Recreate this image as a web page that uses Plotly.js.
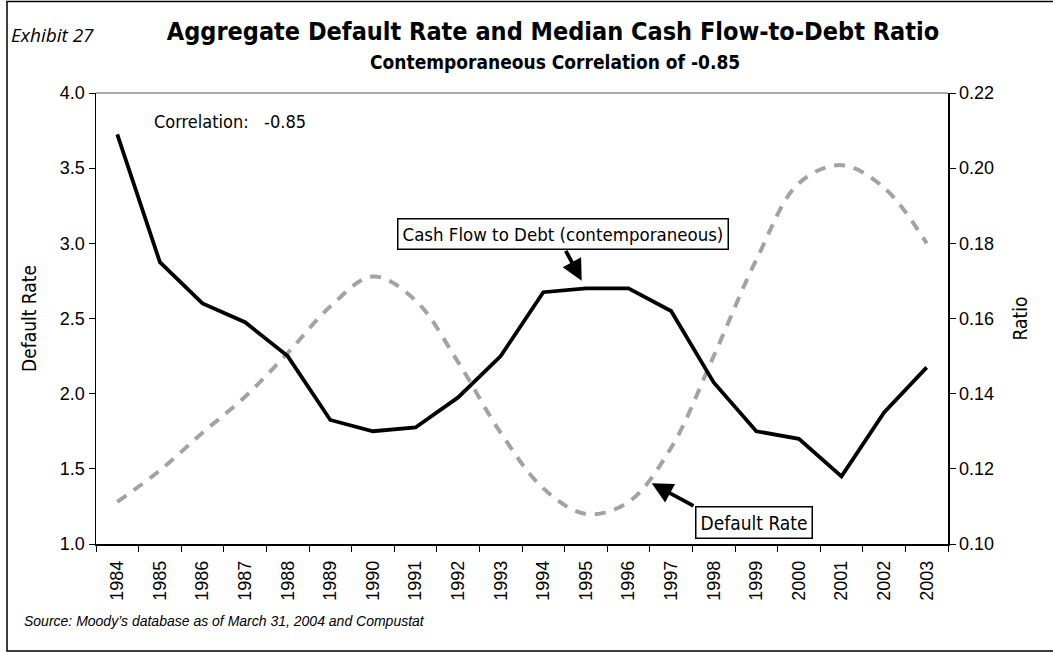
<!DOCTYPE html>
<html>
<head>
<meta charset="utf-8">
<script src="https://cdn.plot.ly/plotly-3.0.1.min.js"></script>
<style>
  html, body { margin: 0; padding: 0; background: #fff; }
  #chart { width: 1053px; height: 653px; }
</style>
</head>
<body>
<div id="chart"></div>
<script>
// ---- data ----
var years = ['1984','1985','1986','1987','1988','1989','1990','1991','1992','1993',
             '1994','1995','1996','1997','1998','1999','2000','2001','2002','2003'];
// Default rate (left axis, grey dashed)
var defaultRate = [1.28, 1.49, 1.74, 1.98, 2.27, 2.58, 2.78, 2.62, 2.21, 1.74,
                   1.37, 1.20, 1.28, 1.64, 2.25, 2.89, 3.40, 3.52, 3.37, 3.00];
// Median cash flow-to-debt ratio (right axis, solid black)
var cashFlowDebt = [0.209, 0.175, 0.164, 0.159, 0.150, 0.133, 0.130, 0.131, 0.139, 0.150,
                    0.167, 0.168, 0.168, 0.162, 0.143, 0.130, 0.128, 0.118, 0.135, 0.147];
var leftTicks = [1.0, 1.5, 2.0, 2.5, 3.0, 3.5, 4.0];
var rightTicks = [0.10, 0.12, 0.14, 0.16, 0.18, 0.20, 0.22];

var NARROW = '"Liberation Sans Narrow", "Arial Narrow", "DejaVu Sans Condensed", sans-serif';
var REG = '"Liberation Sans", Arial, sans-serif';

var traces = [
  {
    x: years, y: defaultRate, type: 'scatter', mode: 'lines', yaxis: 'y',
    name: 'Default Rate',
    line: { color: '#a3a3a3', width: 4, dash: '11px,9px', shape: 'spline', smoothing: 1 },
    hoverinfo: 'x+y'
  },
  {
    x: years, y: cashFlowDebt, type: 'scatter', mode: 'lines', yaxis: 'y2',
    name: 'Cash Flow to Debt',
    line: { color: '#000000', width: 3.8 },
    hoverinfo: 'x+y'
  }
];

var layout = {
  width: 1053, height: 653,
  margin: { l: 96, r: 105, t: 93, b: 109, pad: 0 },
  paper_bgcolor: '#ffffff', plot_bgcolor: '#ffffff',
  showlegend: false,
  title: {
    text: '<b>Aggregate Default Rate and Median Cash Flow-to-Debt Ratio</b>',
    font: { family: NARROW, size: 25, color: '#000' },
    x: 553 / 1053, xanchor: 'center', xref: 'container',
    y: 1 - 31 / 653, yanchor: 'middle', yref: 'container'
  },
  xaxis: {
    type: 'category',
    tickson: 'boundaries',
    ticks: 'outside', ticklen: 6, tickwidth: 1, tickcolor: '#000',
    showline: true, linecolor: '#000', linewidth: 1.5,
    showgrid: false, zeroline: false,
    tickangle: -90,
    ticklabelstandoff: 8,
    tickfont: { family: REG, size: 18, color: '#000' },
    range: [-0.5, 19.5]
  },
  yaxis: {
    range: [1, 4],
    tickvals: leftTicks, tickformat: '.1f',
    ticks: 'outside', ticklen: 6, tickwidth: 1, tickcolor: '#000',
    showline: true, linecolor: '#000', linewidth: 1.5,
    showgrid: false, zeroline: false,
    tickfont: { family: REG, size: 18, color: '#000' },
    title: { text: 'Default Rate', font: { family: NARROW, size: 19, color: '#000' }, standoff: 18 }
  },
  yaxis2: {
    overlaying: 'y', side: 'right',
    range: [0.10, 0.22],
    tickvals: rightTicks, tickformat: '.2f',
    ticks: 'outside', ticklen: 6, tickwidth: 1, tickcolor: '#000',
    showline: true, linecolor: '#000', linewidth: 1.5,
    showgrid: false, zeroline: false,
    tickfont: { family: REG, size: 18, color: '#000' },
    title: { text: 'Ratio', font: { family: NARROW, size: 19, color: '#000' }, standoff: 20 }
  },
  shapes: [
    // grey top border of plot area
    { type: 'line', xref: 'paper', yref: 'paper', x0: 0, x1: 1, y0: 1, y1: 1,
      line: { color: '#8c8c8c', width: 1.5 } },
    // outer frame of the exhibit (right side falls just outside the picture)
    { type: 'rect', xref: 'paper', yref: 'paper',
      x0: (7 - 96) / 852, x1: (1058 - 96) / 852,
      y0: (544 - 651) / 451, y1: (544 - 1.5) / 451,
      line: { color: '#000', width: 1.5 }, fillcolor: 'rgba(0,0,0,0)', layer: 'below' }
  ],
  annotations: [
    { text: '<i>Exhibit 27</i>', xref: 'paper', yref: 'paper',
      x: (9 - 96) / 852, y: (544 - 35) / 451, xanchor: 'left', yanchor: 'middle',
      showarrow: false, font: { family: '"Open Sans", "Noto Sans", sans-serif', size: 19, color: '#000' } },
    { text: '<b>Contemporaneous Correlation of -0.85</b>', xref: 'paper', yref: 'paper',
      x: (555 - 96) / 852, y: (544 - 62) / 451, xanchor: 'center', yanchor: 'middle',
      showarrow: false, font: { family: NARROW, size: 19, color: '#000' } },
    { text: 'Correlation:   -0.85', xref: 'paper', yref: 'paper',
      x: (152 - 96) / 852, y: (544 - 121) / 451, xanchor: 'left', yanchor: 'middle',
      showarrow: false, font: { family: NARROW, size: 18, color: '#000' } },
    { text: 'Cash Flow to Debt (contemporaneous)', xref: 'paper', yref: 'paper',
      x: (562.5 - 96) / 852, y: (544 - 233.7) / 451, xanchor: 'center', yanchor: 'middle',
      showarrow: false, bgcolor: '#fff', bordercolor: '#000', borderwidth: 1.5, borderpad: 4,
      font: { family: NARROW, size: 18.5, color: '#000' } },
    { text: 'Default Rate', xref: 'paper', yref: 'paper',
      x: (754.2 - 96) / 852, y: (544 - 522) / 451, xanchor: 'center', yanchor: 'middle',
      showarrow: false, bgcolor: '#fff', bordercolor: '#000', borderwidth: 1.5, borderpad: 4,
      font: { family: NARROW, size: 19, color: '#000' } },
    // arrows
    { text: '', xref: 'paper', yref: 'paper',
      x: (581.7 - 96) / 852, y: (544 - 280.7) / 451,
      ax: -16.7, ay: -31.4, showarrow: true,
      arrowhead: 2, arrowsize: 1.1, arrowwidth: 3.8, arrowcolor: '#000' },
    { text: '', xref: 'paper', yref: 'paper',
      x: (651.7 - 96) / 852, y: (544 - 483.3) / 451,
      ax: 43.3, ay: 23.4, showarrow: true,
      arrowhead: 2, arrowsize: 1.1, arrowwidth: 3.8, arrowcolor: '#000' },
    { text: '<i>Source: Moody\u2019s database as of March 31, 2004 and Compustat</i>', xref: 'paper', yref: 'paper',
      x: (22 - 96) / 852, y: (544 - 621) / 451, xanchor: 'left', yanchor: 'middle',
      showarrow: false, font: { family: REG, size: 14, color: '#000' } }
  ]
};

Plotly.newPlot('chart', traces, layout, { displayModeBar: false, staticPlot: true });
</script>
</body>
</html>
